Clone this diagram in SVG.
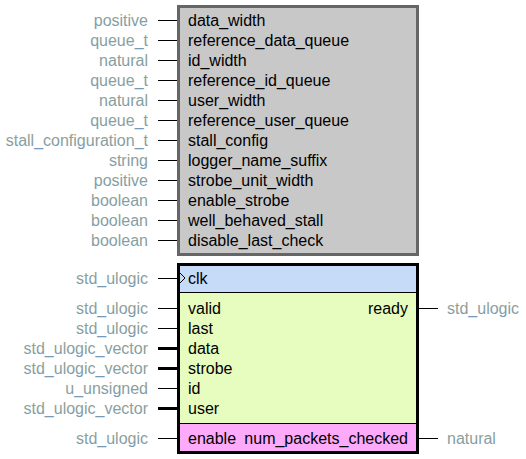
<svg xmlns="http://www.w3.org/2000/svg" width="526" height="459" viewBox="0 0 526 459">
<defs>
<linearGradient id="tg" x1="0" y1="0" x2="0" y2="1">
<stop offset="0" stop-color="#a0a47e"/>
<stop offset="1" stop-color="#7399bb"/>
</linearGradient>
<style>
text{font-family:"Liberation Sans",Arial,sans-serif;font-size:16px}
.t{fill:url(#tg);text-anchor:end}
.tr{fill:url(#tg);text-anchor:start}
.p{fill:#000}
.pr{fill:#000;text-anchor:end}
.w{stroke:#000;stroke-width:1;fill:none}
.b{stroke:#000;stroke-width:3;fill:none}
</style>
</defs>
<rect width="526" height="459" fill="#fff"/>
<g id="generics">
<rect x="178.5" y="6.5" width="239" height="248" fill="#c8c8c8" stroke="#666" stroke-width="3"/>
<text class="p" x="188" y="25.5">data_width</text>
<text class="p" x="188" y="45.5">reference_data_queue</text>
<text class="p" x="188" y="65.5">id_width</text>
<text class="p" x="188" y="85.5">reference_id_queue</text>
<text class="p" x="188" y="105.5">user_width</text>
<text class="p" x="188" y="125.5">reference_user_queue</text>
<text class="p" x="188" y="145.5">stall_config</text>
<text class="p" x="188" y="165.5">logger_name_suffix</text>
<text class="p" x="188" y="185.5">strobe_unit_width</text>
<text class="p" x="188" y="205.5">enable_strobe</text>
<text class="p" x="188" y="225.5">well_behaved_stall</text>
<text class="p" x="188" y="245.5">disable_last_check</text>
<text class="t" x="148" y="25.5">positive</text>
<text class="t" x="148" y="45.5">queue_t</text>
<text class="t" x="148" y="65.5">natural</text>
<text class="t" x="148" y="85.5">queue_t</text>
<text class="t" x="148" y="105.5">natural</text>
<text class="t" x="148" y="125.5">queue_t</text>
<text class="t" x="148" y="145.5">stall_configuration_t</text>
<text class="t" x="148" y="165.5">string</text>
<text class="t" x="148" y="185.5">positive</text>
<text class="t" x="148" y="205.5">boolean</text>
<text class="t" x="148" y="225.5">boolean</text>
<text class="t" x="148" y="245.5">boolean</text>
</g>
<g id="ports">
<rect x="178.5" y="264.5" width="239" height="28" fill="#c6dbf7"/>
<rect x="178.5" y="292.5" width="239" height="131" fill="#e6fdbf"/>
<rect x="178.5" y="423.5" width="239" height="29" fill="#fdaafa"/>
<line x1="178" y1="292.5" x2="418" y2="292.5" stroke="#000" stroke-width="1"/>
<line x1="178" y1="423.5" x2="418" y2="423.5" stroke="#000" stroke-width="1"/>
<rect x="178.5" y="264.5" width="239" height="188" fill="none" stroke="#000" stroke-width="3"/>
<path d="M180 273 L185 278 L180 283" fill="none" stroke="#000" stroke-width="1"/>
<text class="p" x="188" y="283.5">clk</text>
<text class="p" x="188" y="313.5">valid</text>
<text class="p" x="188" y="333.5">last</text>
<text class="p" x="188" y="353.5">data</text>
<text class="p" x="188" y="373.5">strobe</text>
<text class="p" x="188" y="393.5">id</text>
<text class="p" x="188" y="413.5">user</text>
<text class="p" x="188" y="443.5">enable</text>
<text class="pr" x="408" y="313.5">ready</text>
<text class="pr" x="408" y="443.5">num_packets_checked</text>
<text class="t" x="148" y="283.5">std_ulogic</text>
<text class="t" x="148" y="313.5">std_ulogic</text>
<text class="t" x="148" y="333.5">std_ulogic</text>
<text class="t" x="148" y="353.5">std_ulogic_vector</text>
<text class="t" x="148" y="373.5">std_ulogic_vector</text>
<text class="t" x="148" y="393.5">u_unsigned</text>
<text class="t" x="148" y="413.5">std_ulogic_vector</text>
<text class="t" x="148" y="443.5">std_ulogic</text>
<text class="tr" x="447" y="313.5">std_ulogic</text>
<text class="tr" x="447" y="443.5">natural</text>
</g>
<g id="connectors">
<line class="w" x1="158" y1="20.5" x2="177" y2="20.5"/>
<line class="w" x1="158" y1="40.5" x2="177" y2="40.5"/>
<line class="w" x1="158" y1="60.5" x2="177" y2="60.5"/>
<line class="w" x1="158" y1="80.5" x2="177" y2="80.5"/>
<line class="w" x1="158" y1="100.5" x2="177" y2="100.5"/>
<line class="w" x1="158" y1="120.5" x2="177" y2="120.5"/>
<line class="w" x1="158" y1="140.5" x2="177" y2="140.5"/>
<line class="w" x1="158" y1="160.5" x2="177" y2="160.5"/>
<line class="w" x1="158" y1="180.5" x2="177" y2="180.5"/>
<line class="w" x1="158" y1="200.5" x2="177" y2="200.5"/>
<line class="w" x1="158" y1="220.5" x2="177" y2="220.5"/>
<line class="w" x1="158" y1="240.5" x2="177" y2="240.5"/>
<line class="w" x1="158" y1="278.5" x2="177" y2="278.5"/>
<line class="w" x1="158" y1="308.5" x2="177" y2="308.5"/>
<line class="w" x1="158" y1="328.5" x2="177" y2="328.5"/>
<line class="b" x1="158" y1="348.5" x2="177" y2="348.5"/>
<line class="b" x1="158" y1="368.5" x2="177" y2="368.5"/>
<line class="w" x1="158" y1="388.5" x2="177" y2="388.5"/>
<line class="b" x1="158" y1="408.5" x2="177" y2="408.5"/>
<line class="w" x1="158" y1="438.5" x2="177" y2="438.5"/>
<line class="w" x1="419" y1="308.5" x2="438" y2="308.5"/>
<line class="w" x1="419" y1="438.5" x2="438" y2="438.5"/>
</g>
</svg>
